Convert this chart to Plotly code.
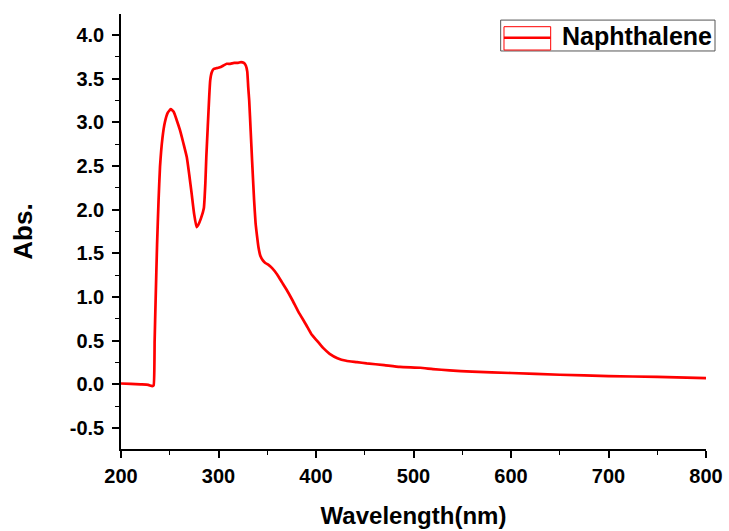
import plotly.graph_objects as go

wavelength = [200, 210, 220, 228, 232, 233.5, 234.5, 235.5, 237, 238.5, 240, 242.5, 245, 248, 251,
              254, 257, 260.5, 264, 267.5, 270, 272.5, 275, 277.5, 279, 282, 285, 286.5, 287.5, 289,
              290.5, 291.5, 293, 295, 298, 301.5, 305, 308.5, 312, 316, 320, 323, 326, 328, 329.5,
              330.5, 331.5, 333, 334.5, 336.5, 338, 339.5, 341, 343, 345.5, 348, 351, 355, 360, 365,
              370, 376, 382, 390, 395, 401, 407, 414, 422, 431, 442, 452, 470, 486, 507, 520, 537,
              560, 600, 650, 700, 750, 800]
absorbance = [0.01, 0.005, 0.0, -0.005, -0.02, -0.01, 0.5, 0.96, 1.6, 2.1, 2.49, 2.82, 3.00, 3.11, 3.15,
              3.12, 3.03, 2.91, 2.76, 2.60, 2.40, 2.18, 1.95, 1.80, 1.82, 1.90, 2.02, 2.30, 2.60, 2.95,
              3.30, 3.48, 3.57, 3.61, 3.62, 3.63, 3.65, 3.67, 3.67, 3.68, 3.68, 3.69, 3.68, 3.65, 3.58,
              3.40, 3.25, 2.90, 2.55, 2.11, 1.85, 1.70, 1.57, 1.47, 1.42, 1.39, 1.37, 1.33, 1.26, 1.17,
              1.08, 0.96, 0.83, 0.68, 0.58, 0.50, 0.42, 0.35, 0.30, 0.27, 0.255, 0.24, 0.22, 0.20, 0.19,
              0.175, 0.16, 0.145, 0.13, 0.11, 0.095, 0.085, 0.072]

series_name = "Naphthalene"
x_title = "Wavelength(nm)"
y_title = "Abs."
x_ticks = [200, 300, 400, 500, 600, 700, 800]
y_ticks = [-0.5, 0.0, 0.5, 1.0, 1.5, 2.0, 2.5, 3.0, 3.5, 4.0]
y_tick_text = ["-0.5", "0.0", "0.5", "1.0", "1.5", "2.0", "2.5", "3.0", "3.5", "4.0"]

FONT = "Liberation Sans, Arial, sans-serif"
RED = "#ff0000"

fig = go.Figure()
fig.add_trace(go.Scatter(x=wavelength, y=absorbance, mode="lines", name=series_name,
                         line=dict(color=RED, width=2.7, shape="spline", smoothing=0.4),
                         showlegend=False))

# Origin-style legend box drawn in paper coordinates
legend_shapes = [
    dict(type="rect", xref="paper", yref="paper", x0=0.649, x1=1.0154, y0=0.915, y1=0.986,
         line=dict(color="#555555", width=1), fillcolor="white", layer="above"),
    dict(type="rect", xref="paper", yref="paper", x0=0.6547, x1=0.7345, y0=0.9172, y1=0.9708,
         line=dict(color=RED, width=1), fillcolor="rgba(0,0,0,0)", layer="above"),
    dict(type="line", xref="paper", yref="paper", x0=0.6547, x1=0.7345, y0=0.9455, y1=0.9455,
         line=dict(color=RED, width=2.6), layer="above"),
]

fig.update_layout(
    width=729, height=531,
    margin=dict(l=121, r=23, t=14, b=82, autoexpand=False),
    paper_bgcolor="white", plot_bgcolor="white",
    font=dict(family=FONT, color="black"),
    showlegend=False,
    shapes=legend_shapes,
    annotations=[dict(text=series_name, xref="paper", yref="paper", x=0.7504, y=0.949,
                      xanchor="left", yanchor="middle", showarrow=False,
                      font=dict(family=FONT, size=25, color="black", weight="bold"))],
)
fig.update_xaxes(
    range=[200, 800], tickvals=x_ticks, ticktext=[str(v) for v in x_ticks],
    showline=True, linecolor="black", linewidth=1.6, mirror=False,
    ticks="outside", ticklen=7, tickwidth=1.6, tickcolor="black",
    showgrid=False, zeroline=False, automargin=False,
    tickfont=dict(family=FONT, size=20, weight="bold"),
    ticklabelstandoff=1,
    minor=dict(tickvals=[250, 350, 450, 550, 650, 750], ticks="outside", ticklen=4,
               tickwidth=1.4, tickcolor="black", showgrid=False),
    title=dict(text=x_title, font=dict(family=FONT, size=24, weight="bold"), standoff=21),
)
fig.update_yaxes(
    range=[-0.74, 4.24], tickvals=y_ticks, ticktext=y_tick_text,
    showline=True, linecolor="black", linewidth=1.6, mirror=False,
    ticks="outside", ticklen=7, tickwidth=1.6, tickcolor="black",
    showgrid=False, zeroline=False, automargin=False,
    tickfont=dict(family=FONT, size=20, weight="bold"),
    ticklabelstandoff=4,
    minor=dict(tickvals=[-0.25, 0.25, 0.75, 1.25, 1.75, 2.25, 2.75, 3.25, 3.75, 4.25], ticks="outside",
               ticklen=4, tickwidth=1.4, tickcolor="black", showgrid=False),
    title=dict(text=y_title, font=dict(family=FONT, size=26, weight="bold"), standoff=30),
)

fig.write_html("out.html", config={"displayModeBar": False},
               post_script="document.body.style.margin='0';")
